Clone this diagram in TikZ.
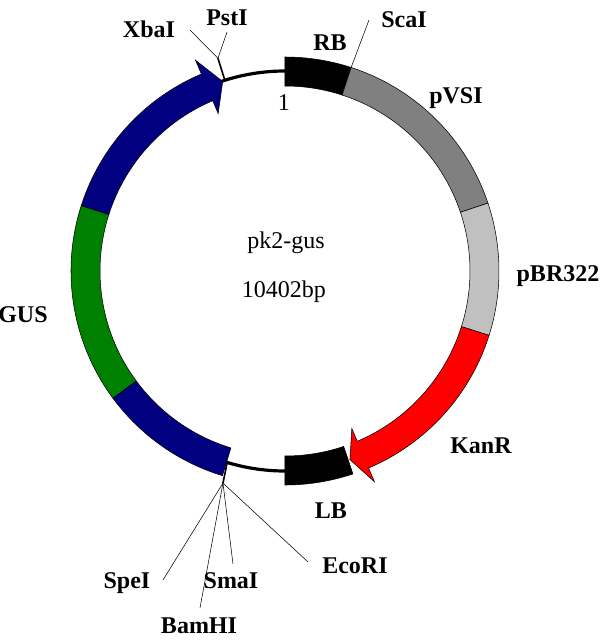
\documentclass[tikz,border=0pt]{standalone}
\usepackage{fontspec}
\setmainfont{Liberation Serif}
\usepackage{tikz}

\definecolor{navyblue}{RGB}{0,0,128}
\definecolor{gusgreen}{RGB}{0,128,0}
\definecolor{vsigray}{RGB}{128,128,128}
\definecolor{brgray}{RGB}{192,192,192}

\begin{document}
\begin{tikzpicture}[x=0.75pt,y=0.75pt,
    lbl/.style={font=\fontsize{18}{20}\selectfont\bfseries, anchor=base, inner sep=0pt},
    txt/.style={font=\fontsize{18}{20}\selectfont, anchor=base, inner sep=0pt},
    seg/.style={draw=black, line width=0.4pt},
    site/.style={draw=black, line width=0.4pt},
    tick/.style={draw=black, line width=1.2pt}]
    \useasboundingbox (-285,-369) rectangle (317,271);
    % backbone
    \draw[line width=2.4pt] (90:200) arc[start angle=90, end angle=108.5, radius=200];
    \draw[line width=2.4pt] (252.5:200) arc[start angle=252.5, end angle=270, radius=200];
    % blocks
    \foreach \a/\b/\c in {90/72/black, 72/18.5/vsigray, 18.5/-17.5/brgray, 162.2/216.5/gusgreen, 216.5/253/navyblue, 270/288.5/black}
        \filldraw[seg, fill=\c] (\a:185) arc[start angle=\a, end angle=\b, radius=185]
            -- (\b:214) arc[start angle=\b, end angle=\a, radius=214] -- cycle;
    % arrows
    \filldraw[seg, fill=navyblue] (162.2:185) arc[start angle=162.2, end angle=113, radius=185]
        -- (113:171) -- (108.2:199.5) -- (113:229) -- (113:214)
        arc[start angle=113, end angle=162.2, radius=214] -- cycle;
    \filldraw[seg, fill=red] (-17.5:214) arc[start angle=-17.5, end angle=-67, radius=214]
        -- (-67:229) -- (-71:199.5) -- (-67:171) -- (-67:185)
        arc[start angle=-67, end angle=-17.5, radius=185] -- cycle;
    % sites
    \coordinate (topsite) at (107.5:200);
    \coordinate (toptick) at (107.5:223);
    \coordinate (botsite) at (253.2:200);
    \coordinate (bottick) at (253.7:221);
    \coordinate (scasite) at (72:214);
    \coordinate (xbaend) at (-95,241);
    \coordinate (pstend) at (-58,239);
    \coordinate (scaend) at (84,251);
    \coordinate (speend) at (-122,-309);
    \coordinate (bamend) at (-85,-337);
    \coordinate (smaend) at (-52,-293);
    \coordinate (ecoend) at (23,-291);
    \draw[tick] (topsite) -- (toptick);
    \draw[tick] (botsite) -- (bottick);
    \draw[site] (toptick) -- (xbaend);
    \draw[site] (toptick) -- (pstend);
    \draw[site] (scasite) -- (scaend);
    \draw[site] (bottick) -- (speend);
    \draw[site] (bottick) -- (bamend);
    \draw[site] (bottick) -- (smaend);
    \draw[site] (bottick) -- (ecoend);
    % labels
    \node[lbl] (xba) at (-136,234) {XbaI};
    \node[lbl] (pst) at (-58,246) {PstI};
    \node[lbl] (rb) at (45,221) {RB};
    \node[lbl] (sca) at (119,244) {ScaI};
    \node[lbl] (pvsi) at (171,168) {pVSI};
    \node[lbl] (pbr) at (273,-10) {pBR322};
    \node[lbl] (kanr) at (196,-182) {KanR};
    \node[lbl] (lb) at (46,-247) {LB};
    \node[lbl] (eco) at (70,-302) {EcoRI};
    \node[lbl] (sma) at (-54,-317) {SmaI};
    \node[lbl] (spe) at (-158,-317) {SpeI};
    \node[lbl] (bam) at (-86,-362) {BamHI};
    \node[lbl] (gus) at (-262,-51) {GUS};
    \node[txt] (one) at (-1,161) {1};
    \node[txt] (name) at (1,23) {pk2-gus};
    \node[txt] (size) at (-1,-26) {10402bp};
\end{tikzpicture}
\end{document}
